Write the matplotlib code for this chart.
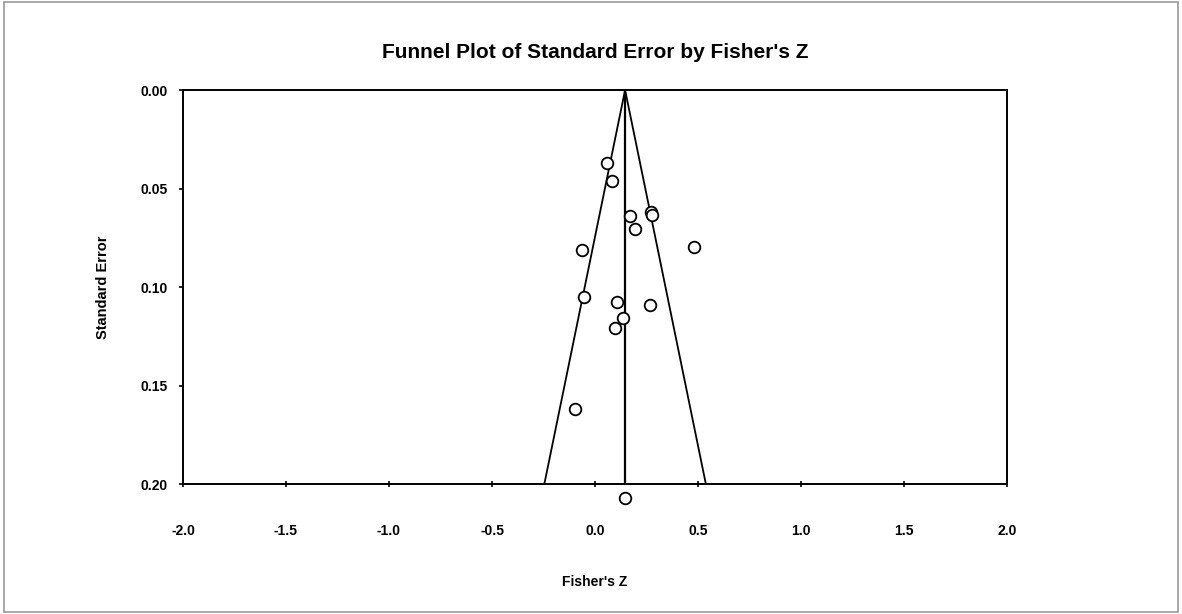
import numpy as np
import matplotlib
matplotlib.use('Agg')
import matplotlib.pyplot as plt
from matplotlib.patches import Rectangle

plt.rcParams["font.family"] = ["Liberation Sans", "DejaVu Sans"]

# 研究数据 (Fisher's Z, 标准误)
fisher_z = [0.058, 0.083, 0.170, 0.194, 0.272, 0.277, -0.063, 0.480,
            -0.053, 0.107, 0.267, 0.136, 0.097, -0.097, 0.146]
std_err = [0.037, 0.046, 0.064, 0.0706, 0.062, 0.0635, 0.081, 0.0797,
           0.105, 0.1076, 0.109, 0.1157, 0.121, 0.162, 0.207]
combined_z = 0.146
x_ticks = [-2.0, -1.5, -1.0, -0.5, 0.0, 0.5, 1.0, 1.5, 2.0]
y_ticks = [0.00, 0.05, 0.10, 0.15, 0.20]

fig = plt.figure(figsize=(11.82, 6.14), dpi=100)
ax = fig.add_axes([0.1548, 0.2117, 0.6972, 0.6417])

# 漏斗线
se_max = 0.2
ax.plot([combined_z, combined_z], [0, se_max], color='black', lw=1.6)
ax.plot([combined_z, combined_z - 1.96 * se_max], [0, se_max], color='black', lw=1.3)
ax.plot([combined_z, combined_z + 1.96 * se_max], [0, se_max], color='black', lw=1.3)

# 各研究点
ax.scatter(fisher_z, std_err, s=70, marker='o', facecolors='white',
           edgecolors='black', linewidths=1.3, zorder=3, clip_on=False)

ax.set_xlim(-2.0, 2.0)
ax.set_ylim(0.20, 0.00)
ax.set_xticks(x_ticks)
ax.set_yticks(y_ticks)
ax.set_xticklabels([f"{v:.1f}" for v in x_ticks], fontsize=10, fontweight='bold')
ax.set_yticklabels([f"{v:.2f}" for v in y_ticks], fontsize=10, fontweight='bold')
ax.tick_params(axis='x', direction='inout', length=5, width=1.2, pad=26)
ax.tick_params(axis='y', direction='out', length=3, width=1.2, pad=8)
for sp in ax.spines.values():
    sp.set_linewidth(1.4)

ax.set_xlabel("Fisher's Z", fontsize=10, fontweight='bold', labelpad=27)
ax.set_ylabel("Standard Error", fontsize=10.5, fontweight='bold', labelpad=22)
fig.text(0.504, 0.915, "Funnel Plot of Standard Error by Fisher's Z",
         ha='center', va='center', fontsize=15, fontweight='bold')

# 外框
fig.patches.append(Rectangle((0.003, 0.003), 0.994, 0.994, transform=fig.transFigure,
                             fill=False, edgecolor='#999999', lw=1.2))

fig.savefig('out.png', dpi=100)
